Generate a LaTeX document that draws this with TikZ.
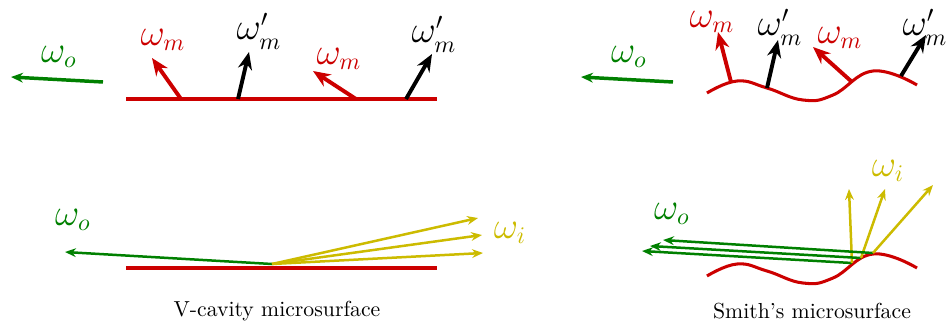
\documentclass[tikz,border=0pt]{standalone}
\usetikzlibrary{arrows.meta}
\definecolor{surfred}{RGB}{204,0,0}
\definecolor{outgreen}{RGB}{0,128,0}
\definecolor{inyellow}{RGB}{204,187,0}

\begin{document}
\begin{tikzpicture}[
  x=0.46pt, y=-0.46pt,
  surf/.style={surfred, line width=1.4pt},
  normal/.style={-{Stealth[length=8pt, width=6.5pt]}, line width=1.8pt},
  outdir/.style={outgreen, -{Stealth[length=5.5pt, width=4.5pt]}, line width=1.6pt},
  ray/.style={-{Stealth[length=5pt, width=4pt]}, line width=1.15pt},
  lbl/.style={font=\fontsize{16}{18}\selectfont, inner sep=0pt},
  caption/.style={font=\normalsize}
]
\useasboundingbox (0,0) rectangle (948,328);

% ---- V-cavity, top: microfacet normals
\coordinate (va) at (126,99);
\coordinate (vb) at (437,99);
\draw[surf] (va) -- (vb);

\coordinate (vm1) at (181,99);   \coordinate (vm1t) at (152,58);
\coordinate (vn1) at (238,99);   \coordinate (vn1t) at (249,52);
\coordinate (vm2) at (356,99);   \coordinate (vm2t) at (313,71);
\coordinate (vn2) at (406,99);   \coordinate (vn2t) at (432,54);
\draw[normal, surfred] (vm1) -- (vm1t);
\draw[normal] (vn1) -- (vn1t);
\draw[normal, surfred] (vm2) -- (vm2t);
\draw[normal] (vn2) -- (vn2t);

\node[lbl, surfred] (lvm1) at (163,40) {$\omega_m$};
\node[lbl] (lvn1) at (259,31) {$\omega'_m$};
\node[lbl, surfred] (lvm2) at (339,59) {$\omega_m$};
\node[lbl] (lvn2) at (434,34) {$\omega'_m$};

\coordinate (vo) at (103,82);    \coordinate (vot) at (11,77);
\draw[outdir] (vo) -- (vot);
\node[lbl, outgreen] (lvo) at (59,57) {$\omega_o$};

% ---- Smith, top: microfacet normals
\draw[surf] plot[smooth, tension=0.75] coordinates {
  (707,93) (737,81) (767,88) (803,100) (833,95) (873,71) (917,85)};

\coordinate (sm1) at (731,82);   \coordinate (sm1t) at (718,32);
\coordinate (sn1) at (767,88);   \coordinate (sn1t) at (778,40);
\coordinate (sm2) at (852,82);   \coordinate (sm2t) at (813,47);
\coordinate (sn2) at (901,76);   \coordinate (sn2t) at (926,35);
\draw[normal, surfred] (sm1) -- (sm1t);
\draw[normal] (sn1) -- (sn1t);
\draw[normal, surfred] (sm2) -- (sm2t);
\draw[normal] (sn2) -- (sn2t);

\node[lbl, surfred] (lsm1) at (712,22) {$\omega_m$};
\node[lbl] (lsn1) at (780,27) {$\omega'_m$};
\node[lbl, surfred] (lsm2) at (840,38) {$\omega_m$};
\node[lbl] (lsn2) at (925,27) {$\omega'_m$};

\coordinate (so) at (673,82);    \coordinate (sot) at (581,77);
\draw[outdir] (so) -- (sot);
\node[lbl, outgreen] (lso) at (629,57) {$\omega_o$};

% ---- V-cavity, bottom: light paths
\coordinate (vc) at (126,268);
\coordinate (vd) at (437,268);
\draw[surf] (vc) -- (vd);

\coordinate (vhit) at (272,264);
\coordinate (vi1) at (478,218);
\coordinate (vi2) at (482,235);
\coordinate (vi3) at (483,253);
\coordinate (vout) at (65,252);
\draw[ray, outgreen] (vhit) -- (vout);
\foreach \t in {vi1,vi2,vi3}
  \draw[ray, inyellow] (vhit) -- (\t);
\node[lbl, outgreen] (lvo2) at (73,220) {$\omega_o$};
\node[lbl, inyellow] (lvi) at (510,233) {$\omega_i$};
\node[caption] (capv) at (277,311) {V-cavity microsurface};

% ---- Smith, bottom: light paths
\draw[surf] plot[smooth, tension=0.75] coordinates {
  (707,276) (737,264) (767,271) (803,283) (833,278) (873,254) (917,268)};

\coordinate (sh1) at (852,263);  \coordinate (so1) at (642,251);  \coordinate (si1) at (849,189);
\coordinate (sh2) at (861,258);  \coordinate (so2) at (650,246);  \coordinate (si2) at (885,189);
\coordinate (sh3) at (873,253);  \coordinate (so3) at (663,240);  \coordinate (si3) at (933,185);
\foreach \k in {1,2,3} {
  \draw[ray, outgreen] (sh\k) -- (so\k);
  \draw[ray, inyellow] (sh\k) -- (si\k);
}
\node[lbl, outgreen] (lso2) at (672,214) {$\omega_o$};
\node[lbl, inyellow] (lsi) at (888,171) {$\omega_i$};
\node[caption] (caps) at (812,311) {Smith's microsurface};

\end{tikzpicture}
\end{document}
